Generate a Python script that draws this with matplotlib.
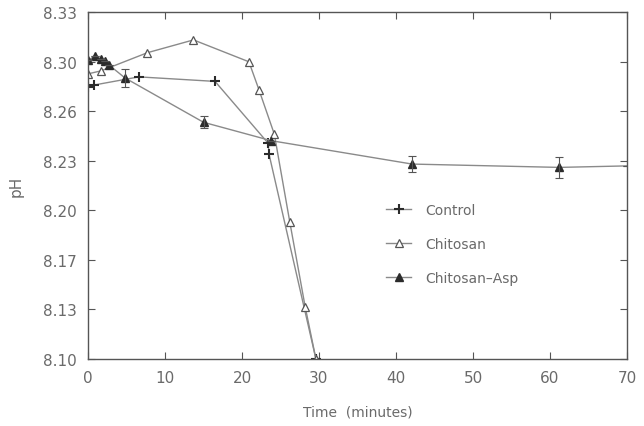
# pH over time for control, chitosan and chitosan-Asp

import numpy as np
import matplotlib.pyplot as plt

# Data
control_t = [0.0, 0.8, 6.6, 16.5, 23.4, 23.5, 29.6]
control_ph = [8.280, 8.2816, 8.287, 8.284, 8.243, 8.236, 8.100]

chitosan_t = [0.0, 1.7, 7.7, 13.7, 20.9, 22.2, 24.2, 26.2, 28.2, 29.6]
chitosan_ph = [8.289, 8.291, 8.303, 8.3115, 8.297, 8.2785, 8.249, 8.191, 8.1347, 8.100]

asp_t = [0.0, 0.9, 1.7, 2.2, 2.7, 4.8, 15.0, 23.8, 42.1, 61.2, 70.0]
asp_ph = [8.298, 8.3008, 8.2988, 8.2975, 8.295, 8.2863, 8.2569, 8.2447, 8.2292, 8.227, 8.228]
asp_err = [0, 0, 0, 0, 0, 0.006, 0.004, 0, 0.0053, 0.007, 0]

yticks = np.linspace(8.10, 8.33, 8)
xticks = [0, 10, 20, 30, 40, 50, 60, 70]

line_c = '#8a8a8a'
mark_c = '#2b2b2b'
text_c = '#6a6a6a'

fig = plt.figure(figsize=(6.44, 4.27), dpi=100)
ax = fig.add_axes([88/644, 1-360/427, (627-88)/644, (360-13)/427])

ax.plot(control_t, control_ph, color=line_c, lw=1.0, marker='+', ms=7,
        mec=mark_c, mew=1.5, label='Control')
ax.plot(chitosan_t, chitosan_ph, color=line_c, lw=1.0, marker='^', ms=5.5,
        mfc='white', mec='#555555', mew=0.9, label='Chitosan')
ax.plot(asp_t, asp_ph, color=line_c, lw=1.0, marker='^', ms=6,
        mfc=mark_c, mec=mark_c, markevery=list(range(len(asp_t) - 1)),
        label='Chitosan\u2013Asp')
ax.errorbar(asp_t, asp_ph, yerr=asp_err, fmt='none', ecolor='#555555',
            elinewidth=0.8, capsize=3, capthick=0.8)

ax.set_xlim(0, 70)
ax.set_ylim(8.10, 8.33)
ax.set_xticks(xticks)
ax.set_yticks(yticks)
ax.set_yticklabels(['%.2f' % v for v in yticks])
ax.tick_params(direction='in', top=True, right=True, length=5, width=0.8,
               colors='#555555', labelcolor=text_c, labelsize=11, pad=8)
for s in ax.spines.values():
    s.set_color('#555555')
    s.set_linewidth(1.0)

ax.set_xlabel('Time  (minutes)', color=text_c, fontsize=10, labelpad=14)
ax.set_ylabel('pH', color=text_c, fontsize=11, labelpad=14)

ax.legend(loc='upper left', bbox_to_anchor=(0.54, 0.47), frameon=False,
          fontsize=10, labelcolor=text_c, handlelength=1.8,
          handletextpad=1.0, labelspacing=1.45, borderpad=0)

plt.savefig('out.png', dpi=100)
